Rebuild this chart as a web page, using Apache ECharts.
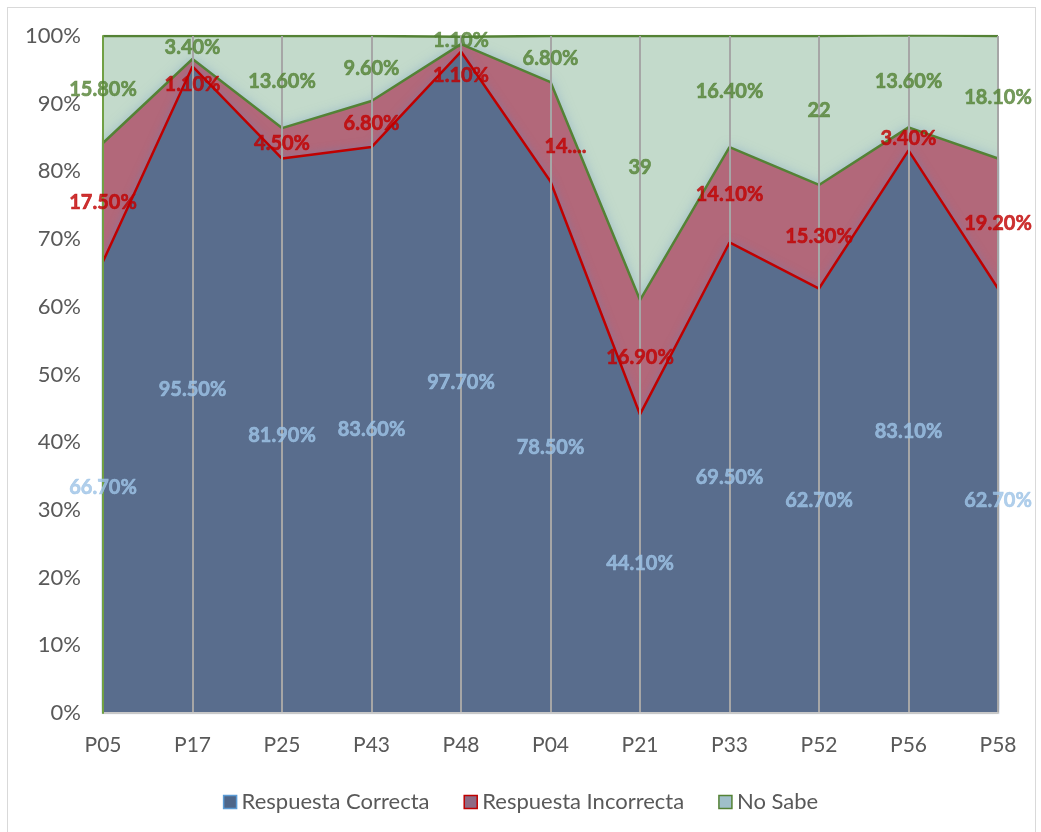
<!DOCTYPE html>
<html>
<head>
<meta charset="utf-8">
<script src="https://cdn.jsdelivr.net/npm/echarts@6/dist/echarts.min.js"></script>
<style>
  html, body { margin: 0; padding: 0; background: #fff; }
  #chart { width: 1041px; height: 832px; }
  .frame { position: absolute; left: 7px; top: 7px; width: 1027px; height: 830px; border: 1px solid #d9d9d9; pointer-events: none; }
</style>
</head>
<body>
<div id="chart"></div>
<div class="frame"></div>
<script>
const categories = ['P05', 'P17', 'P25', 'P43', 'P48', 'P04', 'P21', 'P33', 'P52', 'P56', 'P58']
const correcta = [66.7, 95.5, 81.9, 83.6, 97.7, 78.5, 44.1, 69.5, 62.7, 83.1, 62.7]
const incorrecta = [17.5, 1.1, 4.5, 6.8, 1.1, 14.7, 16.9, 14.1, 15.3, 3.4, 19.2]
const noSabe = [15.8, 3.4, 13.6, 9.6, 1.1, 6.8, 39, 16.4, 22, 13.6, 18.1]
const yTicks = [0, 10, 20, 30, 40, 50, 60, 70, 80, 90, 100]

const FONT = 'Lato'

// texto de las etiquetas (enteros sin decimales, como en el original)
const fmt = v => Number.isInteger(v) ? String(v) : v.toFixed(2) + '%'

// etiquetas centradas en cada franja apilada
function labelSeries(name, values, bases, color, tweaks) {
  return {
    name: name + '-lbl',
    type: 'scatter',
    symbolSize: 0,
    silent: true,
    z: 10,
    data: values.map((v, i) => {
      const t = tweaks[i] || {}
      return {
        value: [i, bases[i] + v / 2],
        label: {
          formatter: t.text || fmt(v),
          offset: t.offset || [0, 0]
        }
      }
    }),
    label: {
      show: true,
      position: 'inside',
      color: color,
      fontFamily: FONT,
      fontWeight: 'bold',
      fontSize: 20,
      textBorderColor: color,
      textBorderWidth: 0.6
    }
  }
}

const zeros = categories.map(() => 0)
const base2 = correcta
const base3 = correcta.map((v, i) => v + incorrecta[i])

const chart = echarts.init(document.getElementById('chart'))
chart.setOption({
  animation: false,
  grid: { left: 103, right: 43, top: 36, bottom: 119 },
  legend: {
    top: 786,
    left: 'center',
    icon: 'rect',
    itemWidth: 13,
    itemHeight: 13,
    itemGap: 34,
    textStyle: { color: '#595959', fontSize: 22, fontFamily: FONT },
    data: [
      { name: 'Respuesta Correcta', itemStyle: { color: '#4e6689', borderColor: '#5b9bd5', borderWidth: 1.5 } },
      { name: 'Respuesta Incorrecta', itemStyle: { color: '#8d6a84', borderColor: '#c00000', borderWidth: 1.5 } },
      { name: 'No Sabe', itemStyle: { color: '#9fbfc9', borderColor: '#548235', borderWidth: 1.5 } }
    ]
  },
  xAxis: {
    type: 'category',
    boundaryGap: false,
    data: categories,
    z: 5,
    axisLine: { lineStyle: { color: '#c8c8c8', width: 2 } },
    axisTick: { show: false },
    axisLabel: { color: '#595959', fontSize: 21, fontFamily: FONT, margin: 22 },
    splitLine: { show: true, lineStyle: { color: '#a6a6a6', width: 2 } }
  },
  yAxis: {
    type: 'value',
    min: yTicks[0],
    max: yTicks[yTicks.length - 1],
    interval: 10,
    z: 6,
    axisLine: { show: true, lineStyle: { color: '#70a044', width: 2 } },
    axisTick: { show: false },
    axisLabel: { formatter: '{value}%', color: '#595959', fontSize: 22, fontFamily: FONT, margin: 22 },
    splitLine: { show: false }
  },
  series: [
    {
      name: 'Respuesta Correcta',
      type: 'line',
      stack: 'total',
      symbol: 'none',
      z: 3,
      lineStyle: { color: '#c00000', width: 2.5 },
      itemStyle: { color: '#596d8d' },
      areaStyle: { color: '#596d8d', opacity: 1, shadowBlur: 10, shadowColor: 'rgba(95,130,185,0.6)' },
      data: correcta
    },
    {
      name: 'Respuesta Incorrecta',
      type: 'line',
      stack: 'total',
      symbol: 'none',
      z: 2,
      lineStyle: { color: '#548235', width: 2.5 },
      itemStyle: { color: '#b2687a' },
      areaStyle: { color: '#b2687a', opacity: 1, shadowBlur: 12, shadowColor: 'rgba(120,160,200,0.6)' },
      data: incorrecta
    },
    {
      name: 'No Sabe',
      type: 'line',
      stack: 'total',
      symbol: 'none',
      z: 1,
      lineStyle: { color: '#548235', width: 2.5 },
      itemStyle: { color: '#c3dacb' },
      areaStyle: { color: '#c3dacb', opacity: 1 },
      data: noSabe
    },
    labelSeries('Respuesta Correcta', correcta, zeros, '#9dc3e6', {}),
    labelSeries('Respuesta Incorrecta', incorrecta, base2, '#c00000', {
      1: { offset: [0, 22] },
      4: { offset: [0, 28] },
      5: { text: '14....', offset: [15, 15] }
    }),
    labelSeries('No Sabe', noSabe, base3, '#548235', {})
  ]
})
</script>
</body>
</html>
